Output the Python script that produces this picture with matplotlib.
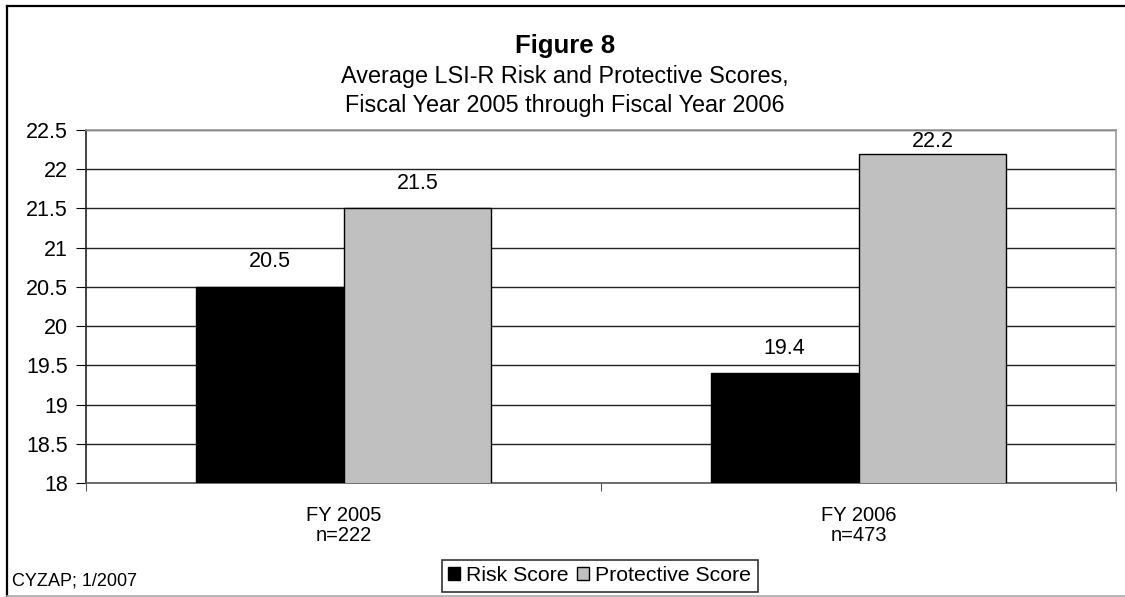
import matplotlib
matplotlib.use("Agg")
import matplotlib.pyplot as plt
from matplotlib.patches import Patch
from matplotlib.lines import Line2D
import numpy as np

plt.rcParams['font.family'] = ['Liberation Sans', 'DejaVu Sans']

categories = ["FY 2005\nn=222", "FY 2006\nn=473"]
series_names = ["Risk Score", "Protective Score"]
risk_scores = [20.5, 19.4]
protective_scores = [21.5, 22.2]
y_ticks = [18, 18.5, 19, 19.5, 20, 20.5, 21, 21.5, 22, 22.5]
y_tick_labels = ["18", "18.5", "19", "19.5", "20", "20.5", "21", "21.5", "22", "22.5"]

W, H = 1125, 597
fig = plt.figure(figsize=(W / 100, H / 100), dpi=100)
fig.patch.set_facecolor("white")

# outer chart frame
fig.add_artist(Line2D([7 / W, 7 / W], [1 - 6 / H, 1 - 596 / H], transform=fig.transFigure, color="black", lw=1.6))
fig.add_artist(Line2D([7 / W, 1.0], [1 - 6 / H, 1 - 6 / H], transform=fig.transFigure, color="black", lw=1.6))
fig.add_artist(Line2D([7 / W, 1.0], [1 - 596 / H, 1 - 596 / H], transform=fig.transFigure, color="#aaaaaa", lw=1.2))

ax = fig.add_axes([86 / W, 1 - 483 / H, (1116 - 86) / W, (483 - 130) / H])

y_min, y_max = 18, 22.5
x = np.arange(len(categories)) + 0.5
bw = 0.287
b1 = ax.bar(x - bw / 2, risk_scores, width=bw, color="black", edgecolor="black", linewidth=1, zorder=3)
b2 = ax.bar(x + bw / 2, protective_scores, width=bw, color="#c0c0c0", edgecolor="black", linewidth=1, zorder=3)

# value labels sit above each bar, kept inside the plot area near the top
for bars, vals in ((b1, risk_scores), (b2, protective_scores)):
    for rect, v in zip(bars, vals):
        cx = rect.get_x() + rect.get_width() / 2
        if v + 0.4 > y_max:
            ax.annotate(f"{v:.1f}", (cx, y_max), xytext=(0, -1), textcoords="offset points",
                        ha="center", va="top", fontsize=15.5)
        else:
            ax.annotate(f"{v:.1f}", (cx, v), xytext=(0, 10.5), textcoords="offset points",
                        ha="center", va="bottom", fontsize=15.5)

ax.set_ylim(y_min, y_max)
ax.set_xlim(0, 2)
ax.set_yticks(y_ticks)
ax.set_yticklabels(y_tick_labels, fontsize=15.5)
ax.yaxis.grid(True, color="#222222", lw=1, zorder=0)

ax.set_xticks([0, 1, 2])
ax.set_xticklabels([])
ax.set_xticks(x, minor=True)
ax.set_xticklabels(categories, minor=True, fontsize=14.5, linespacing=1.1)
ax.tick_params(axis="x", which="minor", length=0, pad=16.5)
ax.tick_params(axis="x", which="major", length=6, color="#555555", direction="out")
ax.tick_params(axis="y", length=7, direction="out", pad=6)

ax.spines["left"].set_color("#222222")
ax.spines["bottom"].set_color("#555555")
ax.spines["top"].set_color("#999999")
ax.spines["right"].set_color("#999999")
for s in ax.spines.values():
    s.set_linewidth(1.2)

fig.text(565 / W, 1 - 53 / H, "Figure 8", ha="center", va="baseline", fontsize=18.5, fontweight="bold")
fig.text(565 / W, 1 - 83 / H, "Average LSI-R Risk and Protective Scores,", ha="center", va="baseline", fontsize=16.8)
fig.text(565 / W, 1 - 112 / H, "Fiscal Year 2005 through Fiscal Year 2006", ha="center", va="baseline", fontsize=16.8)

fig.text(12 / W, 1 - 586 / H, "CYZAP; 1/2007", ha="left", va="baseline", fontsize=13)

handles = [Patch(facecolor="black", edgecolor="black"), Patch(facecolor="#c0c0c0", edgecolor="black")]
leg = fig.legend(handles, series_names, loc="upper center", bbox_to_anchor=(599.5 / W, 1 - 560 / H),
                 ncol=2, fontsize=15.3, frameon=True, fancybox=False, edgecolor="black",
                 handlelength=0.55, handleheight=0.55, handletextpad=0.3, columnspacing=0.4,
                 borderpad=0.3, borderaxespad=0)
leg.get_frame().set_linewidth(1.2)

fig.savefig("out.png", dpi=100, facecolor="white")
